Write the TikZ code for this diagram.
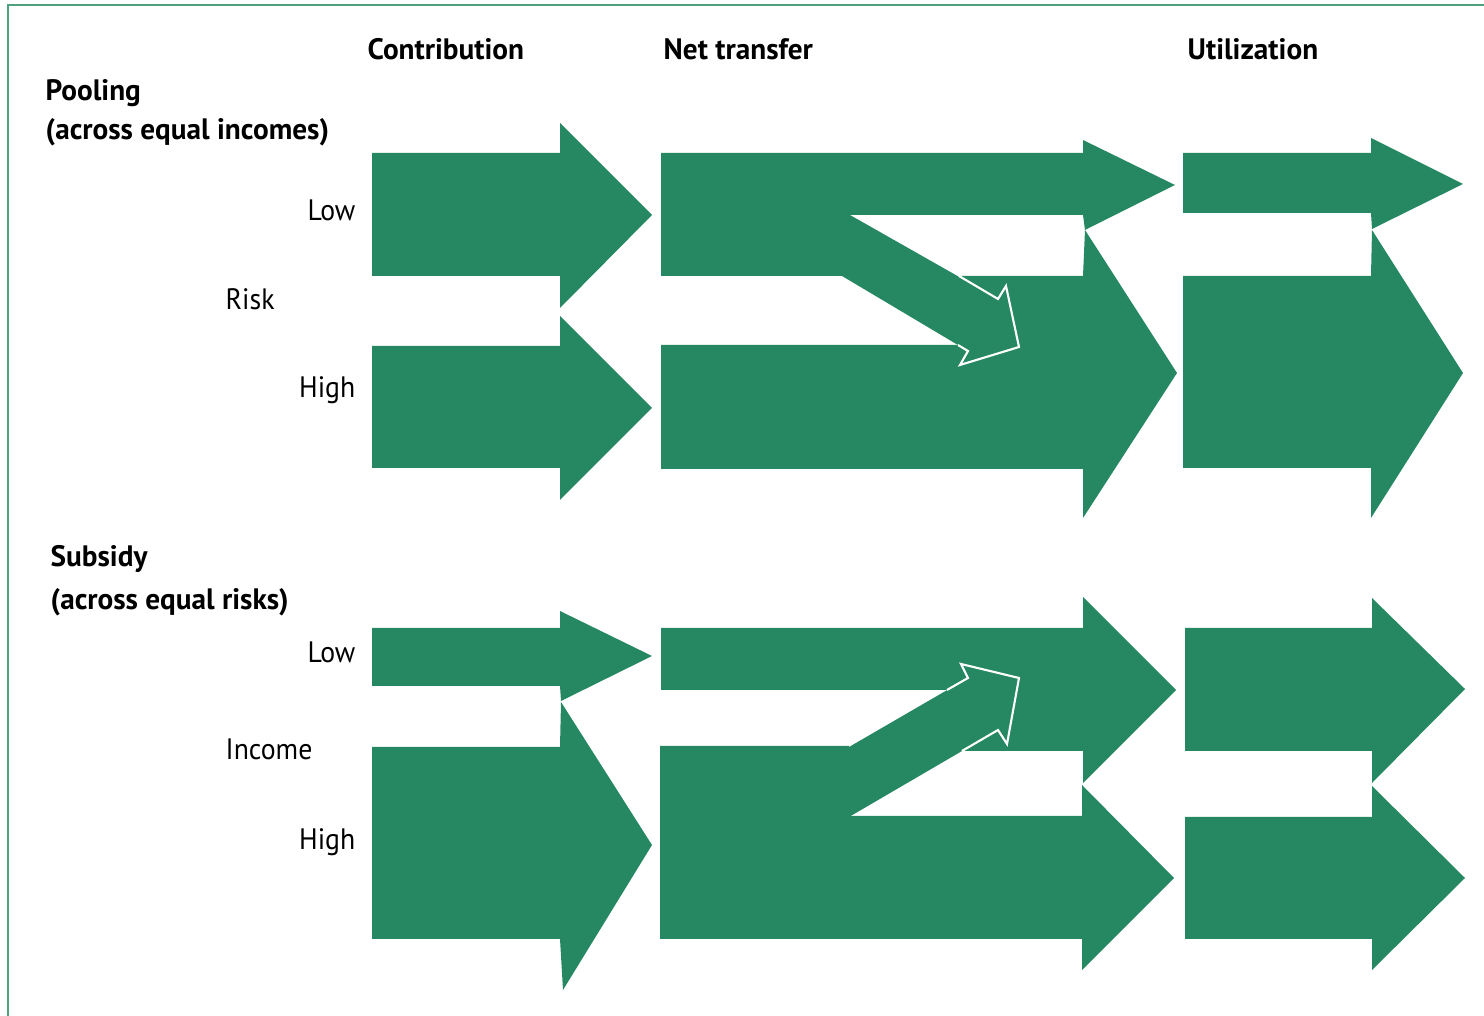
\documentclass[tikz,border=0pt]{standalone}
\usepackage{fontspec}
\setmainfont[FakeStretch=0.94,BoldFeatures={FakeStretch=0.99}]{PT Sans}
\usepackage{xcolor}
\usepackage{tikz}
\definecolor{fundgreen}{HTML}{268862}
\definecolor{framegreen}{HTML}{4DA27E}

\tikzset{
  hdr/.style={inner sep=0pt,font=\fontsize{8.4}{10}\selectfont\bfseries},
  lbl/.style={inner sep=0pt,font=\fontsize{8.4}{10}\selectfont},
  flow/.style={fill=fundgreen},
  rim/.style={draw=white,line width=0.6pt,line join=miter}
}

\begin{document}
\begin{tikzpicture}[x=0.01cm,y=-0.01cm]
  \useasboundingbox (0,0) rectangle (1484,1016);
  \draw[framegreen,line width=0.6pt] (8,1016) -- (8,5) -- (1484,5);

  % column heads
  \node[hdr,anchor=base west] (contrib) at (367,60) {Contribution};
  \node[hdr,anchor=base west] (nettr) at (663,60) {Net transfer};
  \node[hdr,anchor=base west] (util) at (1187,60) {Utilization};

  % pooling rows
  \node[hdr,anchor=base west] (pool) at (45,101) {Pooling};
  \node[hdr,anchor=base west] (poolsub) at (45,140) {(across equal incomes)};
  \node[lbl,anchor=base east] (risklow) at (356,221) {Low};
  \node[lbl,anchor=base west] (risk) at (225,310) {Risk};
  \node[lbl,anchor=base east] (riskhigh) at (356,398) {High};

  % subsidy rows
  \node[hdr,anchor=base west] (subs) at (50,567) {Subsidy};
  \node[hdr,anchor=base west] (subssub) at (50,610) {(across equal risks)};
  \node[lbl,anchor=base east] (inclow) at (356,663) {Low};
  \node[lbl,anchor=base west] (income) at (225,760) {Income};
  \node[lbl,anchor=base east] (inchigh) at (356,850) {High};

  % pooling: contribution
  \fill[flow] (372,153) -- (560,153) -- (560,123) -- (652,215) -- (560,308) -- (560,276) -- (372,276) -- cycle;
  \fill[flow] (372,346) -- (560,346) -- (560,316) -- (652,408) -- (560,500) -- (560,468) -- (372,468) -- cycle;
  % pooling: net transfer
  \fill[flow] (661,153) -- (1083,153) -- (1083,140) -- (1175,185) -- (1085,230) -- (1083,215) -- (850,215) -- (850,276) -- (661,276) -- cycle;
  \fill[flow] (661,345) -- (959,345) -- (959,276) -- (1083,276) -- (1085,230) -- (1177,373) -- (1083,518) -- (1083,469) -- (661,469) -- cycle;
  \fill[flow] (850,215) -- (998,299) -- (1006,286) -- (1019,347) -- (960,365) -- (968,351) -- (842,276) -- cycle;
  \draw[rim] (959,276) -- (998,299) -- (1006,286) -- (1019,347) -- (960,365) -- (968,351) -- (958,345);
  % pooling: utilization
  \fill[flow] (1183,153) -- (1371,153) -- (1371,138) -- (1463,184) -- (1372,229) -- (1371,213) -- (1183,213) -- cycle;
  \fill[flow] (1183,276) -- (1371,276) -- (1372,230) -- (1463,373) -- (1371,518) -- (1371,468) -- (1183,468) -- cycle;

  % subsidy: contribution
  \fill[flow] (372,628) -- (560,628) -- (560,611) -- (652,656) -- (561,701) -- (560,686) -- (372,686) -- cycle;
  \fill[flow] (372,747) -- (560,747) -- (561,702) -- (652,845) -- (563,990) -- (560,939) -- (372,939) -- cycle;
  % subsidy: net transfer
  \fill[flow] (661,628) -- (1083,628) -- (1083,597) -- (1176,690) -- (1083,783) -- (1083,751) -- (962,751) -- (962,690) -- (661,690) -- cycle;
  \fill[flow] (660,746) -- (849,746) -- (849,816) -- (1082,816) -- (1082,785) -- (1174,878) -- (1082,970) -- (1082,939) -- (660,939) -- cycle;
  \fill[flow] (849,747) -- (968,678) -- (961,664) -- (1019,678) -- (1007,744) -- (998,730) -- (849,817) -- cycle;
  \draw[rim] (947,690) -- (968,678) -- (961,664) -- (1019,678) -- (1007,744) -- (998,730) -- (962,751);
  % subsidy: utilization
  \fill[flow] (1185,628) -- (1372,628) -- (1372,598) -- (1465,689) -- (1372,783) -- (1372,751) -- (1185,751) -- cycle;
  \fill[flow] (1185,817) -- (1372,817) -- (1372,786) -- (1465,878) -- (1372,970) -- (1372,939) -- (1185,939) -- cycle;
\end{tikzpicture}
\end{document}
